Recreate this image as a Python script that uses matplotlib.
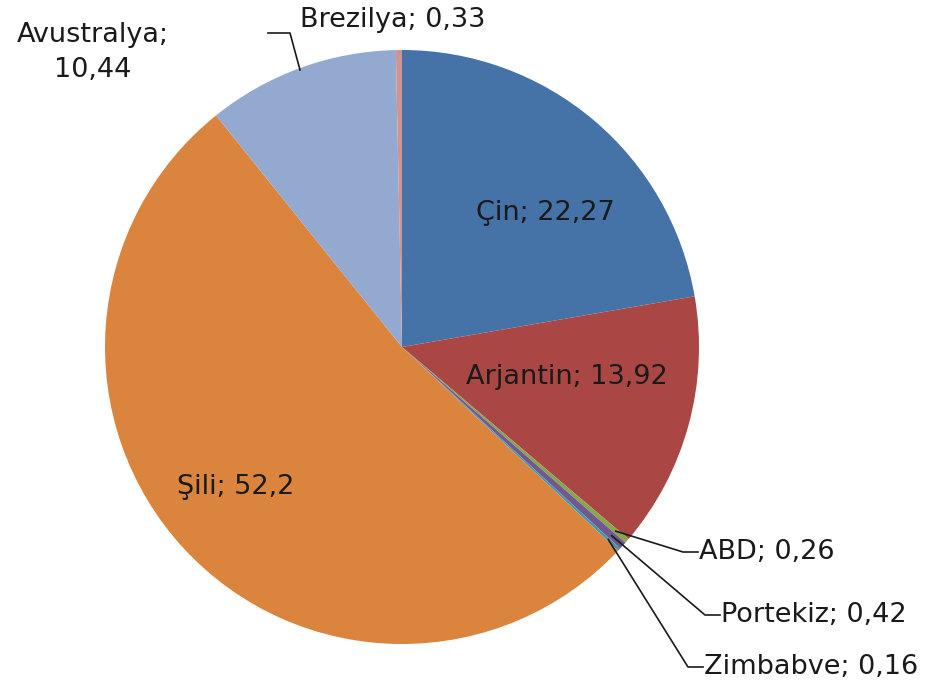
import numpy as np
import matplotlib
matplotlib.use('Agg')
import matplotlib.pyplot as plt

countries = ['Çin', 'Arjantin', 'ABD', 'Portekiz', 'Zimbabve', 'Şili', 'Avustralya', 'Brezilya']
values = [22.27, 13.92, 0.26, 0.42, 0.16, 52.2, 10.44, 0.33]
value_labels = ['22,27', '13,92', '0,26', '0,42', '0,16', '52,2', '10,44', '0,33']
colors = ['#4572A7', '#AA4643', '#89A54E', '#71588F', '#4198AF', '#DB843D', '#93A9CF', '#D19392']

plt.rcParams['font.family'] = ['DejaVu Sans']

W, H = 935, 684
fig = plt.figure(figsize=(W / 100, H / 100), dpi=100)
ax = fig.add_axes([0, 0, 1, 1])

cx, cy, r = 402, H - 347, 297
wedges, _ = ax.pie(values, colors=colors, startangle=90, counterclock=False,
                   center=(cx, cy), radius=r, frame=True,
                   wedgeprops=dict(linewidth=0))
ax.set_xlim(0, W)
ax.set_ylim(0, H)
ax.set_aspect('equal')
ax.axis('off')

txt = dict(fontsize=19.5, color='#1a1a1a')

def edge_point(w, frac=1.0):
    a = np.deg2rad((w.theta1 + w.theta2) / 2)
    return cx + frac * r * np.cos(a), cy + frac * r * np.sin(a)

# labels inside big slices
ax.text(545, H - 213, f'{countries[0]}; {value_labels[0]}', ha='center', va='center', **txt)
ax.text(567, H - 377, f'{countries[1]}; {value_labels[1]}', ha='center', va='center', **txt)
ax.text(236, H - 487, f'{countries[5]}; {value_labels[5]}', ha='center', va='center', **txt)

# outside labels with leader lines
ax.text(93, H - 52, f'{countries[6]};\n{value_labels[6]}', ha='center', va='center',
        linespacing=1.45, **txt)
ax.plot([300, 290, 268], [H - 70, H - 33, H - 33], color='#1a1a1a', lw=1.2)

ax.text(393, H - 20, f'{countries[7]}; {value_labels[7]}', ha='center', va='center', **txt)

outside = [(2, (683, 552), 698), (3, (705, 615), 720), (4, (688, 667), 703)]
for i, (ex, ey), tx in outside:
    px, py = edge_point(wedges[i], 0.95)
    ax.plot([px, ex, tx], [py, H - ey, H - ey], color='#1a1a1a', lw=1.2)
    ax.text(tx + 1, H - ey, f'{countries[i]}; {value_labels[i]}', ha='left', va='center', **txt)

fig.savefig('out.png', dpi=100, facecolor='white')
